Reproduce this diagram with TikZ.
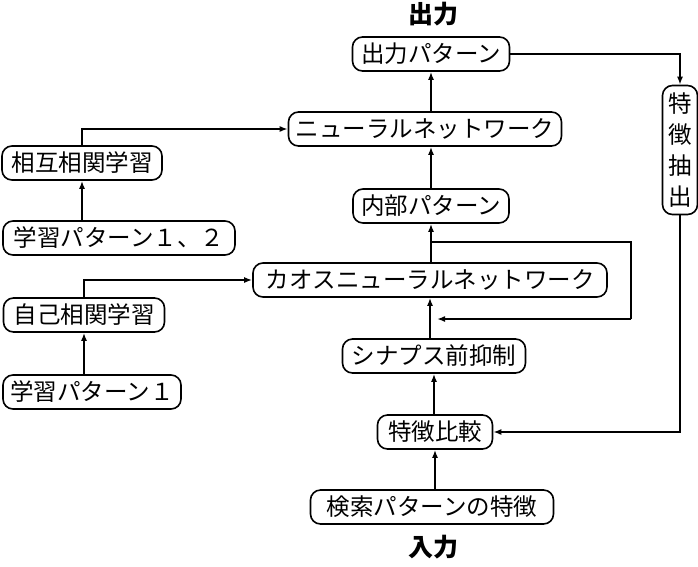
\documentclass[tikz,border=0pt]{standalone}
\usepackage{fontspec}
\usetikzlibrary{arrows.meta}
\setmainfont{Noto Sans CJK JP}
\begin{document}
\begin{tikzpicture}[x=1pt, y=-1pt,
  box/.style={draw, rounded corners=10pt, line width=1.6pt, minimum height=34pt, inner xsep=3pt, inner ysep=0pt, font=\fontsize{23.5}{26}\selectfont},
  lbl/.style={font=\fontsize{25}{26}\selectfont\bfseries},
  arr/.style={-{Latex[length=8pt,width=6pt]}, line width=1.6pt}
]
\useasboundingbox (0,0) rectangle (698,566);
\node[lbl] (outlbl) at (433,14)  {出力};
\node[lbl] (inlbl)  at (433,547) {入力};
\node[box, minimum width=157pt] (out)    at (431,54)  {出力パターン};
\node[box, minimum width=273pt] (nn)     at (425,129) {ニューラルネットワーク};
\node[box, minimum width=156pt] (inner)  at (431,206) {内部パターン};
\node[box, minimum width=354pt] (chaos)  at (430,280) {カオスニューラルネットワーク};
\node[box, minimum width=183pt] (syn)    at (434,356) {シナプス前抑制};
\node[box, minimum width=115pt] (cmp)    at (435,432) {特徴比較};
\node[box, minimum width=243pt] (search) at (432,507) {検索パターンの特徴};
\node[box, minimum width=160pt] (mutual) at (82,163)  {相互相関学習};
\node[box, minimum width=232pt] (lp12)   at (119,238) {学習パターン１、２};
\node[box, minimum width=161pt] (auto)   at (84,315)  {自己相関学習};
\node[box, minimum width=178pt] (lp1)    at (92,392)  {学習パターン１};
\node[box, minimum width=35pt, minimum height=129pt, inner xsep=1pt, align=center,
  font=\fontsize{23.5}{31}\selectfont] (ext) at (680,150) {特\\徴\\抽\\出};
% main column
\draw[arr] (search.north -| cmp.south) -- (cmp.south);
\draw[arr] (cmp.north -| syn.south) -- (syn.south);
\draw[arr] (syn.north -| chaos.south) -- (chaos.south);
\draw[arr] (chaos.north -| inner.south) -- (inner.south);
\draw[arr] (inner.north) -- (inner.north |- nn.south);
\draw[arr] (nn.north -| out.south) -- (out.south);
% feedback loop
\coordinate (fbtop) at (631,242);
\coordinate (fbbot) at (631,319);
\coordinate (fbin)  at (437,319);
\draw[line width=1.6pt] (inner.south |- fbtop) -- (fbtop) -- (fbbot);
\draw[arr] (fbbot) -- (fbin);
% feature extraction
\draw[arr] (out.east) -| (ext.north);
\draw[arr] (ext.south) |- (cmp.east);
% learning
\draw[arr] (lp12.north -| mutual.south) -- (mutual.south);
\draw[arr] (mutual.north) |- (nn.west);
\draw[arr] (lp1.north -| auto.south) -- (auto.south);
\draw[arr] (auto.north) |- (chaos.west);
\end{tikzpicture}
\end{document}
